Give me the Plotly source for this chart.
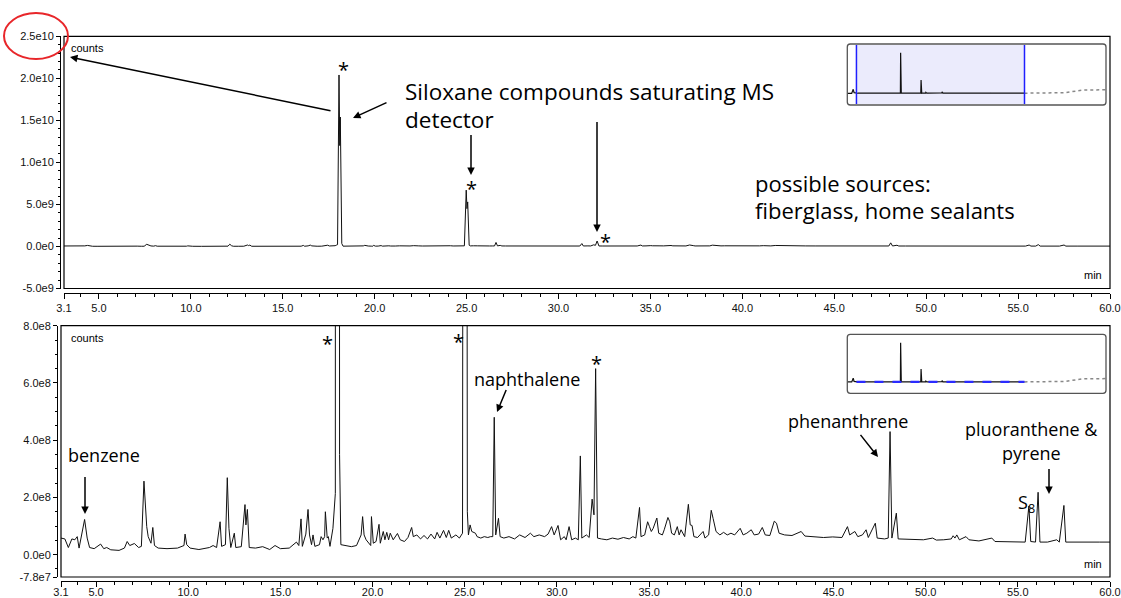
import plotly.graph_objects as go

W, H = 1121, 598

# ---------------- data ----------------
time_min = [
    3.1, 3.31, 3.5, 3.69, 3.85, 3.98, 4.08, 4.23, 4.38, 4.52,
    4.65, 4.9, 5.25, 5.42, 5.58, 5.8, 6.25, 6.54, 6.69, 6.83,
    7.08, 7.31, 7.46, 7.6, 7.67, 7.75, 7.83, 7.98, 8.08, 8.17,
    8.37, 8.85, 9.42, 9.77, 9.83, 9.92, 10.1, 10.58, 11.15, 11.35,
    11.54, 11.73, 11.81, 12.02, 12.12, 12.21, 12.31, 12.5, 12.58, 12.88,
    13.08, 13.13, 13.21, 13.31, 13.65, 14.04, 14.42, 14.71, 15.0, 15.48,
    15.87, 16.0, 16.12, 16.19, 16.38, 16.5, 16.58, 16.69, 16.77, 16.87,
    17.12, 17.21, 17.31, 17.4, 17.44, 17.54, 17.6, 17.69, 17.85, 17.92,
    17.98, 18.06, 18.1, 18.13, 18.21, 18.28, 18.56, 18.85, 19.13, 19.27,
    19.38, 19.46, 19.54, 19.65, 19.81, 19.9, 19.94, 20.04, 20.19, 20.35,
    20.42, 20.58, 20.67, 20.77, 20.87, 20.96, 21.12, 21.35, 21.5, 21.73,
    21.92, 22.12, 22.21, 22.4, 22.6, 22.79, 22.98, 23.17, 23.37, 23.5,
    23.65, 23.85, 24.0, 24.13, 24.27, 24.52, 24.71, 24.88, 24.98, 25.02,
    25.06, 25.14, 25.2, 25.29, 25.38, 25.58, 25.67, 25.87, 26.06, 26.25,
    26.4, 26.52, 26.6, 26.68, 26.83, 26.92, 27.12, 27.4, 27.7, 27.98,
    28.27, 28.56, 28.75, 29.04, 29.33, 29.52, 29.71, 29.85, 30.06, 30.2,
    30.4, 30.5, 30.66, 30.8, 31.0, 31.16, 31.27, 31.35, 31.6, 31.75,
    31.91, 32.01, 32.1, 32.2, 32.41, 32.71, 33.01, 33.31, 33.61, 33.92,
    34.12, 34.28, 34.48, 34.56, 34.76, 34.92, 35.02, 35.12, 35.22, 35.42,
    35.52, 35.72, 35.82, 36.02, 36.12, 36.22, 36.37, 36.53, 36.63, 36.73,
    36.93, 37.13, 37.23, 37.33, 37.43, 37.63, 37.93, 38.03, 38.23, 38.37,
    38.47, 38.63, 38.84, 39.04, 39.24, 39.44, 39.64, 39.94, 40.1, 40.3,
    40.54, 40.7, 40.94, 41.14, 41.3, 41.55, 41.79, 41.91, 42.05, 42.35,
    42.75, 43.25, 43.45, 43.96, 44.46, 44.96, 45.46, 45.76, 45.88, 46.16,
    46.32, 46.57, 46.77, 46.89, 47.27, 47.37, 47.77, 47.97, 48.07, 48.17,
    48.41, 48.51, 48.87, 49.38, 49.88, 50.38, 50.58, 50.98, 51.39, 51.49,
    51.59, 51.69, 51.83, 52.19, 52.35, 52.89, 53.59, 53.76, 54.4, 55.0,
    55.4, 55.6, 55.7, 55.96, 56.1, 56.2, 56.61, 57.11, 57.25, 57.5,
    57.6, 58.21, 58.82, 59.42, 60.0,
]
counts = [
    5.8e7, 5.5e7, 2.5e7, 5.5e7, 5.2e7, 6.3e7, 2.3e7, 6.9e7, 1.23e8, 5.8e7,
    2.5e7, 2.1e7, 3.7e7, 2.1e7, 2.5e7, 1.7e7, 1.5e7, 2.3e7, 4.6e7, 3.2e7,
    3.9e7, 2.5e7, 2.9e7, 2.57e8, 1.85e8, 9.8e7, 6.3e7, 4.0e7, 9.5e7, 3.2e7,
    2.3e7, 2.1e7, 2.3e7, 3.2e7, 7.2e7, 3.5e7, 2.3e7, 1.8e7, 2.5e7, 3.2e7,
    2.5e7, 1.15e8, 2.9e7, 3.5e7, 2.69e8, 9.2e7, 2.5e7, 7.5e7, 2.5e7, 2.8e7,
    1.75e8, 1.04e8, 1.58e8, 2.5e7, 2.3e7, 2.8e7, 1.8e7, 3.2e7, 2.1e7, 2.3e7,
    4.4e7, 3.2e7, 1.25e8, 2.9e7, 7.2e7, 1.58e8, 6.9e7, 3.5e7, 6.9e7, 2.9e7,
    3.5e7, 6.3e7, 5.2e7, 6.3e7, 1.5e8, 5.8e7, 6.3e7, 2.9e7, 9.2e7, 1.62e8,
    2.14e8, 2.04e10, 1.2e10, 1.54e10, 3.5e8, 3.5e7, 3.2e7, 2.8e7, 3.2e7, 5.2e7,
    6.9e7, 1.33e8, 6.9e7, 5.2e7, 4.0e7, 3.2e7, 1.33e8, 4.0e7, 4.6e7, 1.06e8,
    4.0e7, 8.1e7, 5.2e7, 7.8e7, 5.2e7, 7.5e7, 5.2e7, 7.4e7, 5.2e7, 4.6e7,
    6.0e7, 9.5e7, 6.3e7, 6.9e7, 5.5e7, 6.7e7, 5.5e7, 7.2e7, 5.5e7, 7.8e7,
    5.8e7, 8.5e7, 6.0e7, 8.5e7, 5.8e7, 6.9e7, 5.8e7, 7.5e7, 6.7e9, 4.5e9,
    5.3e9, 1.5e8, 6.9e7, 1.04e8, 8.1e7, 7.5e7, 6.3e7, 5.8e7, 6.3e7, 6.0e7,
    6.3e7, 6.3e7, 4.8e8, 6.9e7, 1.27e8, 6.3e7, 5.8e7, 6.3e7, 5.5e7, 6.9e7,
    6.0e7, 7.5e7, 6.3e7, 6.9e7, 6.3e7, 7.2e7, 9.8e7, 6.9e7, 1.02e8, 5.2e7,
    6.3e7, 5.2e7, 9.8e7, 5.2e7, 5.8e7, 5.2e7, 3.45e8, 5.8e7, 6.9e7, 6.0e7,
    1.94e8, 1.39e8, 6.5e8, 5.8e7, 5.5e7, 5.2e7, 5.8e7, 5.4e7, 6.0e7, 5.5e7,
    6.3e7, 5.8e7, 1.65e8, 6.3e7, 6.9e7, 1.15e8, 9.8e7, 8.1e7, 9.2e7, 1.28e8,
    7.5e7, 6.9e7, 8.7e7, 1.3e8, 1.15e8, 7.5e7, 6.9e7, 9.8e7, 6.9e7, 8.7e7,
    6.3e7, 1.76e8, 1.04e8, 1.02e8, 6.3e7, 6.0e7, 8.1e7, 5.8e7, 6.9e7, 1.55e8,
    1.27e8, 8.1e7, 6.9e7, 7.8e7, 6.9e7, 7.5e7, 6.9e7, 9.2e7, 6.9e7, 7.5e7,
    8.7e7, 6.9e7, 7.2e7, 9.5e7, 6.9e7, 6.7e7, 1.17e8, 1.1e8, 7.5e7, 6.9e7,
    6.7e7, 8.1e7, 6.5e7, 6.3e7, 6.0e7, 6.2e7, 6.0e7, 9.8e7, 6.9e7, 8.1e7,
    6.3e7, 6.9e7, 8.7e7, 6.0e7, 1.1e8, 5.8e7, 5.5e7, 5.8e7, 4.3e8, 5.8e7,
    1.45e8, 5.5e7, 5.4e7, 5.3e7, 5.2e7, 5.8e7, 5.1e7, 5.2e7, 5.5e7, 6.6e7,
    5.8e7, 6.9e7, 5.2e7, 6.3e7, 5.2e7, 4.8e7, 5.8e7, 4.6e7, 4.5e7, 4.6e7,
    4.4e7, 1.7e8, 4.6e7, 4.4e7, 2.18e8, 4.4e7, 4.4e7, 5.2e7, 4.4e7, 1.72e8,
    4.4e7, 4.4e7, 4.5e7, 4.4e7, 4.4e7,
]

# full-run overview (insets): part before 3.1 min and column-bleed tail after 60 min
pre_time = [0.0, 1.5, 1.8, 2.0, 2.3, 2.7, 3.0]
pre_counts = [0.0, 0.0, 1.2e9, 2.0e9, 3.0e8, 1.0e8, 6.0e7]
tail_time = [60.0, 65.0, 70.0, 74.0, 76.0, 78.0, 80.0, 84.0, 87.6]
tail_counts = [4.4e7, 5.0e7, 2.0e8, 3.0e8, 8.0e8, 1.4e9, 1.7e9, 1.7e9, 1.75e9]

x_tick_vals = [3.1, 5, 10, 15, 20, 25, 30, 35, 40, 45, 50, 55, 60]
x_tick_text = ["3.1", "5.0", "10.0", "15.0", "20.0", "25.0", "30.0", "35.0",
               "40.0", "45.0", "50.0", "55.0", "60.0"]
top_y_tick_vals = [-5e9, 0, 5e9, 1e10, 1.5e10, 2e10, 2.5e10]
top_y_tick_text = ["-5.0e9", "0.0e0", "5.0e9", "1.0e10", "1.5e10", "2.0e10", "2.5e10"]
bot_y_tick_vals = [-7.8e7, 0, 2e8, 4e8, 6e8, 8e8]
bot_y_tick_text = ["-7.8e7", "0.0e0", "2.0e8", "4.0e8", "6.0e8", "8.0e8"]

# ---------------- helpers ----------------
def X(px):
    return px / W

def Y(py):
    return 1 - py / H

TICK_FONT = dict(family="Liberation Sans, Arial, sans-serif", size=11, color="#111")
ANN_FONT = "Open Sans, Noto Sans, sans-serif"

x_minor = [v for v in range(4, 61) if v % 5 != 0]
top_y_minor = [v * 1e9 for v in range(-5, 26) if v % 5 != 0]
bot_y_minor = [v * 5e7 for v in range(-1, 17) if v % 4 != 0]

# plot frames (pixels)
TOP = dict(l=64, r=1110, t=36.3, b=288.5, xaxis_y=292.7, yaxis_x=60, standoff=0)
BOT = dict(l=61, r=1110, t=325.7, b=577.0, xaxis_y=581.0, yaxis_x=57, standoff=-4)
TOP_INSET = dict(l=847.3, r=1106, t=44, b=105)
BOT_INSET = dict(l=847.3, r=1106, t=334.3, b=393.3)
INSET_X_RANGE = [0, 87.6]
INSET_Y_RANGE = [-5.9e9, 2.48e10]

fig = go.Figure()

LINE = dict(color="#111", width=1)
fig.add_trace(go.Scatter(x=time_min, y=counts, mode="lines", line=LINE,
                         xaxis="x", yaxis="y", hoverinfo="skip"))
fig.add_trace(go.Scatter(x=time_min, y=counts, mode="lines", line=LINE,
                         xaxis="x2", yaxis="y2", hoverinfo="skip"))
for xa, ya in (("x3", "y3"), ("x4", "y4")):
    fig.add_trace(go.Scatter(x=pre_time + time_min, y=pre_counts + counts, mode="lines",
                             line=dict(color="#111", width=1.2),
                             xaxis=xa, yaxis=ya, hoverinfo="skip"))
    fig.add_trace(go.Scatter(x=tail_time, y=tail_counts, mode="lines",
                             line=dict(color="#888", width=1.5, dash="dot"),
                             xaxis=xa, yaxis=ya, hoverinfo="skip"))


def xaxis_cfg(box):
    return dict(domain=[X(box["l"]), X(box["r"])], range=[3.1, 60], anchor="free",
                position=Y(box["xaxis_y"]), side="bottom",
                showline=True, linecolor="black", linewidth=1,
                tickmode="array", tickvals=x_tick_vals, ticktext=x_tick_text,
                ticks="outside", ticklen=5, tickcolor="black", tickwidth=1,
                ticklabelstandoff=box["standoff"],
                minor=dict(tickmode="array", tickvals=x_minor, ticks="outside",
                           ticklen=3, tickcolor="black", tickwidth=1, showgrid=False),
                showgrid=False, zeroline=False, tickfont=TICK_FONT, automargin=False,
                fixedrange=True)


def yaxis_cfg(box, rng, vals, text, minor_vals):
    return dict(domain=[Y(box["b"]), Y(box["t"])], range=rng, anchor="free",
                position=X(box["yaxis_x"]), side="left",
                showline=True, linecolor="black", linewidth=1,
                tickmode="array", tickvals=vals, ticktext=text,
                ticks="outside", ticklen=4, tickcolor="black", tickwidth=1,
                minor=dict(tickmode="array", tickvals=minor_vals, ticks="outside",
                           ticklen=2.5, tickcolor="black", tickwidth=1, showgrid=False),
                showgrid=False, zeroline=False, tickfont=TICK_FONT, automargin=False,
                fixedrange=True)


def inset_axes(box):
    xa = dict(domain=[X(box["l"]), X(box["r"])], range=INSET_X_RANGE, visible=False,
              fixedrange=True)
    ya = dict(domain=[Y(box["b"]), Y(box["t"])], range=INSET_Y_RANGE, visible=False,
              fixedrange=True)
    return xa, ya


x3, y3 = inset_axes(TOP_INSET)
x4, y4 = inset_axes(BOT_INSET)
x3["anchor"], y3["anchor"] = "y3", "x3"
x4["anchor"], y4["anchor"] = "y4", "x4"

fig.update_layout(
    width=W, height=H, margin=dict(l=0, r=0, t=0, b=0),
    paper_bgcolor="white", plot_bgcolor="rgba(0,0,0,0)", showlegend=False,
    template="none",
    xaxis=xaxis_cfg(TOP), xaxis2=xaxis_cfg(BOT),
    yaxis=yaxis_cfg(TOP, [-5e9, 2.5e10], top_y_tick_vals, top_y_tick_text, top_y_minor),
    yaxis2=yaxis_cfg(BOT, [-7.8e7, 8e8], bot_y_tick_vals, bot_y_tick_text, bot_y_minor),
    xaxis3=x3, yaxis3=y3, xaxis4=x4, yaxis4=y4,
)

shapes = []
# main frames
for box in (TOP, BOT):
    shapes.append(dict(type="rect", xref="paper", yref="paper",
                       x0=X(box["l"]), x1=X(box["r"]), y0=Y(box["b"]), y1=Y(box["t"]),
                       line=dict(color="black", width=1.2), fillcolor="rgba(0,0,0,0)"))

# top inset: shaded zoom window with blue edges
shapes.append(dict(type="rect", xref="x3", yref="paper", x0=3.1, x1=60,
                   y0=Y(TOP_INSET["b"] - 1), y1=Y(TOP_INSET["t"] + 1),
                   fillcolor="#ebebfc", line=dict(width=0), layer="below"))
for xv in (3.1, 60):
    shapes.append(dict(type="line", xref="x3", yref="paper", x0=xv, x1=xv,
                       y0=Y(TOP_INSET["b"] - 1), y1=Y(TOP_INSET["t"] + 1),
                       line=dict(color="#1f1fff", width=1.5)))
# bottom inset: dashed blue zoom band along baseline
shapes.append(dict(type="line", xref="x4", yref="y4", x0=3.1, x1=60, y0=0, y1=0,
                   line=dict(color="#2b2bff", width=2.2, dash="dash")))


def rounded_box(box, r=3):
    l, rr, t, b = box["l"], box["r"], box["t"], box["b"]
    pts = (f"M {X(l + r)},{Y(t)} L {X(rr - r)},{Y(t)} Q {X(rr)},{Y(t)} {X(rr)},{Y(t + r)} "
           f"L {X(rr)},{Y(b - r)} Q {X(rr)},{Y(b)} {X(rr - r)},{Y(b)} "
           f"L {X(l + r)},{Y(b)} Q {X(l)},{Y(b)} {X(l)},{Y(b - r)} "
           f"L {X(l)},{Y(t + r)} Q {X(l)},{Y(t)} {X(l + r)},{Y(t)} Z")
    return dict(type="path", xref="paper", yref="paper", path=pts,
                line=dict(color="#555", width=1.3), fillcolor="rgba(0,0,0,0)")


shapes.append(rounded_box(TOP_INSET))
shapes.append(rounded_box(BOT_INSET))

# red ellipse around the top y-axis maximum label
shapes.append(dict(type="circle", xref="paper", yref="paper",
                   x0=X(4), x1=X(68), y0=Y(59), y1=Y(13),
                   line=dict(color="#e8262a", width=2)))

fig.update_layout(shapes=shapes)

anns = []


def text(px, py, s, size, xanchor="left", family=ANN_FONT, yanchor="middle"):
    anns.append(dict(x=X(px), y=Y(py), xref="paper", yref="paper", text=s,
                     showarrow=False, xanchor=xanchor, yanchor=yanchor,
                     font=dict(family=family, size=size, color="black")))


def arrow(hx, hy, tx, ty):
    anns.append(dict(x=X(hx), y=Y(hy), xref="paper", yref="paper", text=" ",
                     showarrow=True, ax=tx - hx, ay=ty - hy, axref="pixel", ayref="pixel",
                     arrowhead=2, arrowsize=1, arrowwidth=1.5, arrowcolor="black",
                     standoff=0, startstandoff=0, font=dict(size=1)))


SMALL = "Liberation Sans, Arial, sans-serif"
# panel texts
text(69, 48, "counts", 11, family=SMALL)
text(1104, 275, "min", 11, xanchor="right", family=SMALL)
text(69, 338, "counts", 11, family=SMALL)
text(1104, 564, "min", 11, xanchor="right", family=SMALL)

# top annotations
text(403, 91.5, "Siloxane compounds saturating MS", 22.5)
text(403, 119.5, "detector", 22.5)
text(753, 183, "possible sources:", 22)
text(753, 210, "fiberglass, home sealants", 22)
for sx, sy in ((343, 64), (471, 183), (605, 236)):
    text(sx, sy + 5, "*", 20, xanchor="center")
arrow(70, 57, 332, 111)
arrow(353, 118, 388, 102)
arrow(471, 175, 471, 133)
arrow(597, 232, 597, 120)

# bottom annotations
text(66, 455, "benzene", 18)
text(472, 379, "naphthalene", 18)
text(848, 421, "phenanthrene", 18, xanchor="center")
text(1031, 429, "pluoranthene &", 18, xanchor="center")
text(1031, 453, "pyrene", 18, xanchor="center")
text(1026, 503, "S<sub>8</sub>", 18, xanchor="center")
for sx, sy in ((327, 339), (458, 337), (596, 358)):
    text(sx, sy + 5, "*", 20, xanchor="center")
arrow(85, 514, 85, 475)
arrow(497, 412, 507, 388)
arrow(878, 457, 859, 433)
arrow(1049, 494, 1049, 467)

fig.update_layout(annotations=anns)

fig.write_html("out.html")
